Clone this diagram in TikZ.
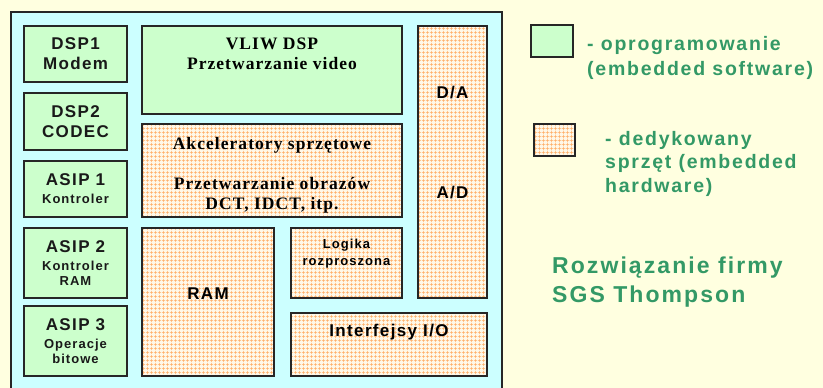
\documentclass[tikz,border=0pt]{standalone}
\usepackage{fontspec}
\setmainfont{Liberation Serif}
\setsansfont{Liberation Sans}
\newfontfamily\boxfont{Liberation Sans}[LetterSpace=8]
\newfontfamily\serfont{Liberation Serif}[LetterSpace=6]
\newfontfamily\keyfont{Liberation Sans}[LetterSpace=9]
\newcommand\smallbox{\boxfont\bfseries\fontsize{13}{16.5}\selectfont}
\usepackage{tikz}
\usetikzlibrary{patterns.meta}

\definecolor{paper}{HTML}{FFFFE0}
\definecolor{chipfill}{HTML}{CCFFFF}
\definecolor{swfill}{HTML}{CCFFCC}
\definecolor{hwgrid}{HTML}{FFAA60}
\definecolor{hwbase}{HTML}{FFF8E8}
\definecolor{keygreen}{HTML}{339966}

\begin{document}
\begin{tikzpicture}[
  x=1pt, y=-1pt,
  block/.style={rectangle, draw=black!85, line width=1.1pt, inner sep=0pt, align=center, text=black!90},
  sw/.style={block, fill=swfill},
  hw/.style={block, preaction={fill=hwbase}, pattern={Hatch[angle=0, distance=4pt, line width=0.7pt]}, pattern color=hwgrid},
  bigtxt/.style={font=\boxfont\bfseries\fontsize{17}{20}\selectfont},
  smalltxt/.style={font=\smallbox},
  sertxt/.style={font=\serfont\bfseries\fontsize{17.5}{20}\selectfont},
  keytxt/.style={inner sep=0pt, align=left, anchor=west, text=keygreen}
]
  \useasboundingbox[fill=paper] (0,0) rectangle (823,388);

  % chip outline
  \draw[fill=chipfill, draw=black!85, line width=1.3pt] (11,394) -- (11,12) -- (502,12) -- (502,394);

  % processors (software)
  \node[sw, bigtxt, minimum width=103pt, minimum height=56pt] (dsp1) at (75.5,54) {DSP1\\Modem};
  \node[sw, bigtxt, minimum width=103pt, minimum height=57pt] (dsp2) at (75.5,121.5) {DSP2\\CODEC};
  \node[sw, bigtxt, minimum width=103pt, minimum height=56pt] (asip1) at (75.5,189)
    {ASIP 1\\[-2pt]\smallbox Kontroler};
  \node[sw, bigtxt, minimum width=103pt, minimum height=70pt] (asip2) at (75.5,263)
    {ASIP 2\\[-2pt]\smallbox Kontroler\\[-5pt]\smallbox RAM};
  \node[sw, bigtxt, minimum width=103pt, minimum height=70pt] (asip3) at (75.5,341)
    {ASIP 3\\[-2pt]\smallbox Operacje\\[-5pt]\smallbox bitowe};
  \node[sw, minimum width=260pt, minimum height=88pt] (vliw) at (272,70) {};
  \node[sertxt, align=center] (vliwtxt) at (272,54) {VLIW DSP\\Przetwarzanie video};

  % dedicated hardware
  \node[hw, minimum width=260pt, minimum height=93pt] (akcel) at (272,170.5) {};
  \node[sertxt, align=center] (akceltxt) at (272,175)
    {Akceleratory sprzętowe\\[20pt]Przetwarzanie obrazów\\DCT, IDCT, itp.};
  \node[hw, minimum width=132pt, minimum height=148pt] (ram) at (208,302) {};
  \node[bigtxt] (ramtxt) at (208,294) {RAM};
  \node[hw, minimum width=111pt, minimum height=70pt] (logika) at (346.5,263) {};
  \node[smalltxt, align=center] (logikatxt) at (346.5,253.5) {Logika\\rozproszona};
  \node[hw, minimum width=196pt, minimum height=63pt] (io) at (389,344.5) {};
  \node[bigtxt] (iotxt) at (389,332) {Interfejsy I/O};
  \node[hw, minimum width=69pt, minimum height=272pt] (conv) at (452.5,162) {};
  \node[bigtxt] (datxt) at (452.5,93) {D/A};
  \node[bigtxt] (adtxt) at (452.5,193) {A/D};

  % legend
  \node[sw, minimum width=42pt, minimum height=32pt] (swkey) at (552,41) {};
  \node[keytxt, font=\keyfont\bfseries\fontsize{19.5}{25}\selectfont] (swkeytxt) at (587,57.5)
    {- oprogramowanie\\(embedded software)};
  \node[hw, minimum width=41pt, minimum height=32pt] (hwkey) at (554.5,140) {};
  \node[keytxt, font=\keyfont\bfseries\fontsize{19.5}{23.5}\selectfont] (hwkeytxt) at (605,163.5)
    {- dedykowany\\sprzęt (embedded\\hardware)};
  \node[keytxt, font=\keyfont\bfseries\fontsize{23}{29}\selectfont] (firma) at (552,282.5)
    {Rozwiązanie firmy\\SGS Thompson};
\end{tikzpicture}
\end{document}
